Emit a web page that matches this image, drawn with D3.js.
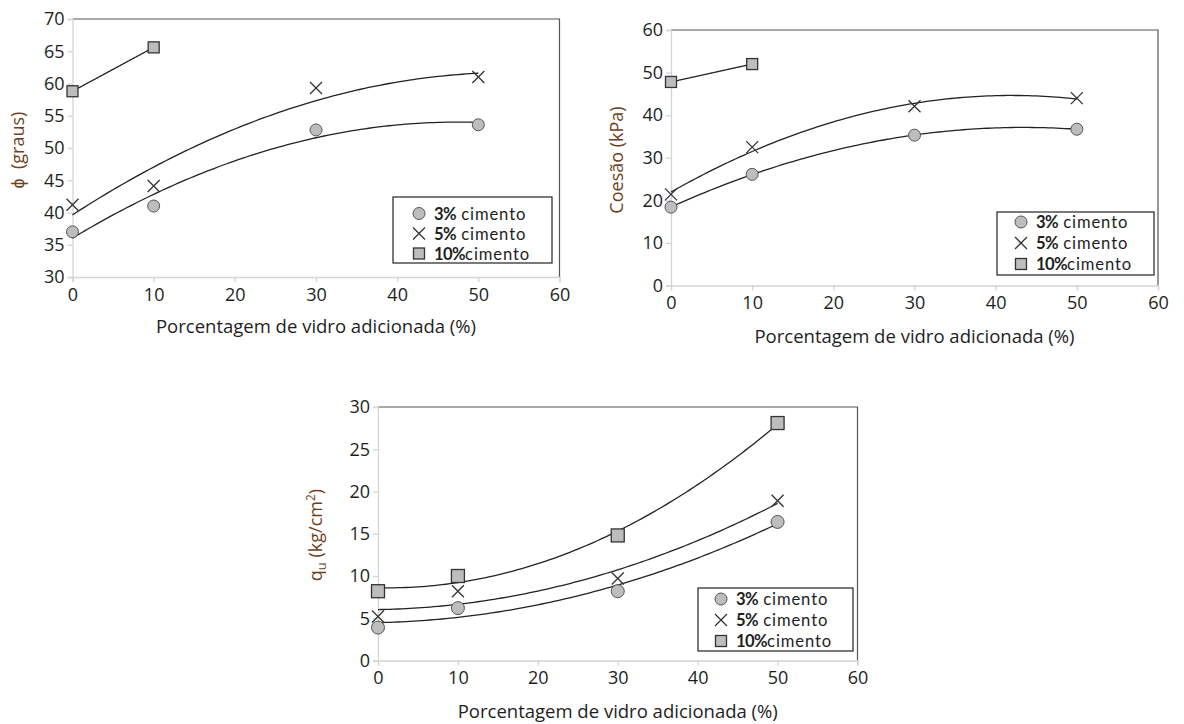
<!DOCTYPE html>
<html><head><meta charset="utf-8">
<script src="https://cdn.jsdelivr.net/npm/d3@7"></script>
<style>
body{margin:0;background:#fff}
svg{display:block}
text{font-family:"Open Sans",sans-serif}
</style>
</head><body>
<svg id="c" width="1184" height="724"></svg>
<script>
// ---- data ----
const glassPct = [0, 10, 30, 50];
const glassPct10 = [0, 10];
const phi3 = [37.0, 41.0, 52.8, 53.6];
const phi5 = [41.2, 44.1, 59.3, 61.0];
const phi10 = [58.8, 65.6];
const coh3 = [18.4, 26.1, 35.3, 36.7];
const coh5 = [21.4, 32.5, 42.1, 44.0];
const coh10 = [47.8, 52.0];
const qu3 = [3.9, 6.2, 8.2, 16.4];
const qu5 = [5.2, 8.2, 9.7, 18.9];
const qu10 = [8.2, 10.0, 14.8, 28.1];
const xTicks = [0, 10, 20, 30, 40, 50, 60];
const phiTicks = [30, 35, 40, 45, 50, 55, 60, 65, 70];
const cohTicks = [0, 10, 20, 30, 40, 50, 60];
const quTicks = [0, 5, 10, 15, 20, 25, 30];
const seriesPct = ["3%", "5%", "10%"];
const seriesWord = "cimento";
const xTitle = "Porcentagem de vidro adicionada (%)";

// ---- helpers ----
function polyfit(xs, ys, deg) {
  const n = deg + 1;
  const A = [], b = [];
  for (let i = 0; i < n; i++) {
    A.push([]);
    for (let j = 0; j < n; j++) A[i].push(d3.sum(xs, x => Math.pow(x, i + j)));
    b.push(d3.sum(xs, (x, k) => Math.pow(x, i) * ys[k]));
  }
  for (let i = 0; i < n; i++) {
    let p = i;
    for (let r = i + 1; r < n; r++) if (Math.abs(A[r][i]) > Math.abs(A[p][i])) p = r;
    [A[i], A[p]] = [A[p], A[i]]; [b[i], b[p]] = [b[p], b[i]];
    for (let r = i + 1; r < n; r++) {
      const f = A[r][i] / A[i][i];
      for (let c = i; c < n; c++) A[r][c] -= f * A[i][c];
      b[r] -= f * b[i];
    }
  }
  const coef = new Array(n).fill(0);
  for (let i = n - 1; i >= 0; i--) {
    let s = b[i];
    for (let c = i + 1; c < n; c++) s -= A[i][c] * coef[c];
    coef[i] = s / A[i][i];
  }
  return x => coef.reduce((acc, c, i) => acc + c * Math.pow(x, i), 0);
}

const svg = d3.select("#c");
const FILL = "#bdbdbd", STROKE = "#333";

function marker(g, type, cx, cy, big) {
  if (type === 0) {
    g.append("circle").attr("cx", cx).attr("cy", cy).attr("r", big ? 6.5 : 6)
      .attr("fill", FILL).attr("stroke", "#555").attr("stroke-width", 1);
  } else if (type === 1) {
    const s = 6;
    g.append("path").attr("d", `M${cx - s},${cy - s}L${cx + s},${cy + s}M${cx - s},${cy + s}L${cx + s},${cy - s}`)
      .attr("stroke", STROKE).attr("stroke-width", 1.3).attr("fill", "none");
  } else {
    const s = big ? 13 : 11;
    g.append("rect").attr("x", cx - s / 2).attr("y", cy - s / 2).attr("width", s).attr("height", s)
      .attr("fill", FILL).attr("stroke", STROKE).attr("stroke-width", 1.3);
  }
}

function drawChart(cfg) {
  const g = svg.append("g");
  const x = d3.scaleLinear().domain([0, 60]).range([cfg.left, cfg.right]);
  const y = d3.scaleLinear().domain(cfg.yDomain).range([cfg.bottom, cfg.top]);

  g.append("path").attr("d", `M${cfg.left},${cfg.top}H${cfg.right}V${cfg.bottom}`)
    .attr("fill", "none").attr("stroke", "#555").attr("stroke-width", 1.2);

  const ya = g.append("g").attr("transform", `translate(${cfg.left},0)`)
    .call(d3.axisLeft(y).tickValues(cfg.yTicks).tickSize(5).tickPadding(3).tickFormat(d3.format("d")));
  const xa = g.append("g").attr("transform", `translate(0,${cfg.bottom})`)
    .call(d3.axisBottom(x).tickValues(xTicks).tickSize(5).tickPadding(6).tickFormat(d3.format("d")));
  [ya, xa].forEach(a => {
    a.select(".domain").attr("stroke", "#d4d4d4").attr("stroke-width", 1.3);
    a.selectAll(".tick line").attr("stroke", "#d4d4d4").attr("stroke-width", 1.3);
    a.selectAll(".tick text").attr("fill", "#1e1e1e").style("font-size", "18px").style("font-family", "'Open Sans',sans-serif");
  });

  cfg.series.forEach((s, i) => {
    const deg = Math.min(2, s.xs.length - 1);
    const f = polyfit(s.xs, s.ys, deg);
    const x0 = d3.min(s.xs), x1 = d3.max(s.xs);
    const pts = d3.range(0, 101).map(k => x0 + (x1 - x0) * k / 100);
    g.append("path").datum(pts)
      .attr("d", d3.line().x(d => x(d)).y(d => y(f(d))))
      .attr("fill", "none").attr("stroke", "#222").attr("stroke-width", 1.3);
  });
  cfg.series.forEach((s, i) => {
    s.xs.forEach((xv, k) => marker(g, i, x(xv), y(s.ys[k]), cfg.big));
  });

  g.append("text").attr("x", (cfg.left + cfg.right) / 2).attr("y", cfg.xTitleY)
    .attr("text-anchor", "middle").attr("fill", "#1e1e1e").style("font-size", "18.5px").text(xTitle);

  const yt = g.append("text").attr("transform", `translate(${cfg.yTitleX},${cfg.yTitleCY}) rotate(-90)`)
    .attr("text-anchor", "middle").attr("fill", "#6e3f1c").style("font-size", "18px");
  cfg.yTitle(yt);

  const L = cfg.legend;
  g.append("rect").attr("x", L.x).attr("y", L.y).attr("width", L.w).attr("height", L.h)
    .attr("fill", "#fff").attr("stroke", "#222").attr("stroke-width", 1.2);
  seriesPct.forEach((p, i) => {
    const cy = L.row0 + i * L.dy;
    marker(g, i, L.x + L.mx, cy, false);
    const t = g.append("text").attr("x", L.x + L.tx).attr("y", cy + 6).attr("fill", "#1e1e1e")
      .style("font-family", "Lato, sans-serif").style("font-size", "16.6px");
    t.append("tspan").attr("font-weight", "bold").style("letter-spacing", "-0.6px").text(p);
    t.append("tspan").style("letter-spacing", "0.9px").text((i === 2 ? "" : " ") + seriesWord);
  });
}

drawChart({
  left: 72.5, right: 559.5, top: 19, bottom: 277, yDomain: [30, 70], yTicks: phiTicks,
  series: [{xs: glassPct, ys: phi3}, {xs: glassPct, ys: phi5}, {xs: glassPct10, ys: phi10}],
  xTitleY: 333, yTitleX: 24, yTitleCY: 150,
  yTitle: t => t.text("\u03D5\u00A0\u00A0(graus)"),
  legend: {x: 393, y: 197, w: 159, h: 66, row0: 213.5, dy: 20, mx: 26, tx: 41}, big: false
});
drawChart({
  left: 671, right: 1158, top: 30, bottom: 285.5, yDomain: [0, 60], yTicks: cohTicks,
  series: [{xs: glassPct, ys: coh3}, {xs: glassPct, ys: coh5}, {xs: glassPct10, ys: coh10}],
  xTitleY: 343, yTitleX: 623, yTitleCY: 160,
  yTitle: t => t.text("Coesão (kPa)"),
  legend: {x: 997, y: 212, w: 157, h: 63, row0: 222, dy: 21, mx: 24, tx: 39}, big: false
});
drawChart({
  left: 378, right: 857.5, top: 407, bottom: 660.5, yDomain: [0, 30], yTicks: quTicks,
  series: [{xs: glassPct, ys: qu3}, {xs: glassPct, ys: qu5}, {xs: glassPct, ys: qu10}],
  xTitleY: 718, yTitleX: 322, yTitleCY: 535,
  yTitle: t => {
    t.append("tspan").text("q");
    t.append("tspan").attr("dy", 4).style("font-size", "13px").text("u");
    t.append("tspan").attr("dy", -4).text(" (kg/cm");
    t.append("tspan").attr("dy", -7).style("font-size", "12px").text("2");
    t.append("tspan").attr("dy", 7).text(")");
  },
  legend: {x: 698, y: 588, w: 155, h: 63, row0: 599, dy: 21, mx: 23, tx: 38}, big: true
});
</script>
</body></html>
